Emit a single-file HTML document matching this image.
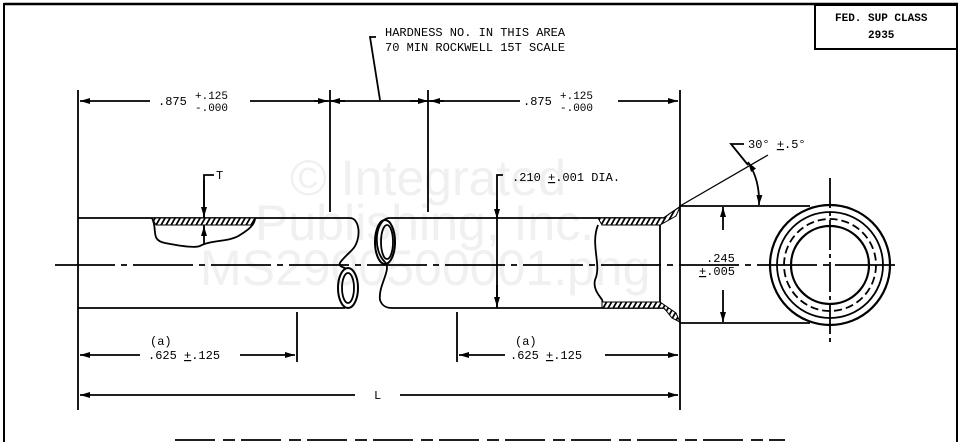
<!DOCTYPE html>
<html><head><meta charset="utf-8"><style>
html,body{margin:0;padding:0;background:#fff}
svg{display:block}
text{font-family:"Liberation Mono",monospace;fill:#000}
</style></head><body>
<svg width="960" height="442" viewBox="0 0 960 442" xmlns="http://www.w3.org/2000/svg">
<defs>
<pattern id="h" width="5" height="6" patternUnits="userSpaceOnUse" patternTransform="skewX(-30)">
<rect width="5" height="6" fill="#fff"/><rect x="0" y="0" width="2" height="6" fill="#000"/></pattern>
<marker id="a" viewBox="0 0 10 6" refX="10" refY="3" markerWidth="10" markerHeight="6" orient="auto-start-reverse" markerUnits="userSpaceOnUse"><path d="M0,0 L10,3 L0,6z" fill="#000"/></marker>
</defs>
<g font-size="50">
<text x="290" y="195" style="fill:#f0f0f0;font-family:'Liberation Sans',sans-serif">© Integrated</text>
<text x="255" y="240" style="fill:#f0f0f0;font-family:'Liberation Sans',sans-serif">Publishing, Inc.</text>
<text x="200" y="285" style="fill:#f0f0f0;font-family:'Liberation Sans',sans-serif">MS2900500001.png</text>
</g>
<g stroke="#000" fill="none" stroke-width="1.8">
<line x1="4" y1="3" x2="4" y2="442" stroke-width="2"/>
<line x1="4" y1="4" x2="958" y2="4" stroke-width="2.5"/>
<line x1="957" y1="4" x2="957" y2="442" stroke-width="2"/>
<rect x="815" y="5" width="142" height="44" stroke-width="2"/>
<polyline points="376,37 370,37 380,100"/>
<line x1="78" y1="90" x2="78" y2="410"/>
<line x1="330" y1="90" x2="330" y2="212"/>
<line x1="428" y1="90" x2="428" y2="212"/>
<line x1="680" y1="90" x2="680" y2="410"/>
<line x1="80" y1="101" x2="150" y2="101" marker-start="url(#a)"/>
<line x1="250" y1="101" x2="328" y2="101" marker-end="url(#a)"/>
<line x1="314" y1="101" x2="444" y2="101"/>
<line x1="330" y1="101" x2="345" y2="101" marker-start="url(#a)"/>
<line x1="410" y1="101" x2="428" y2="101" marker-end="url(#a)"/>
<line x1="430" y1="101" x2="520" y2="101" marker-start="url(#a)"/>
<line x1="618" y1="101" x2="678" y2="101" marker-end="url(#a)"/>
<line x1="55" y1="265" x2="900" y2="265" stroke-dasharray="60,6,6,6"/>
<path d="M78,218 H350 C360,218 362,240 352,250 C340,262 335,265 345,268"/>
<path d="M78,308 H345"/>
<ellipse cx="348" cy="288" rx="10" ry="20" stroke-width="2"/>
<ellipse cx="348" cy="288" rx="6" ry="15"/>
<path d="M680,207 L664,218 H390 C375,218 372,250 385,262 C392,270 378,285 380,300 C382,306 386,308 392,308 H610 L664,308 L680,322"/>
<ellipse cx="385" cy="242" rx="10" ry="22" stroke-width="2"/>
<ellipse cx="387" cy="242" rx="6" ry="17"/>
<path d="M598,225 C590,245 602,265 595,280 C592,292 605,300 602,302"/>
<line x1="660" y1="225" x2="660" y2="302"/>
<path d="M152,218 C158,230 150,240 165,243 C180,246 195,248 200,246 C210,240 230,242 240,235 C248,230 255,225 255,218"/>
<polyline points="214,175 204,175 204,245"/>
<line x1="204" y1="180" x2="204" y2="217" marker-end="url(#a)"/>
<line x1="204" y1="236" x2="204" y2="226" marker-end="url(#a)"/>
<polyline points="503,175 497,175 497,308"/>
<line x1="497" y1="200" x2="497" y2="219" marker-end="url(#a)"/>
<line x1="497" y1="285" x2="497" y2="307" marker-end="url(#a)"/>
<line x1="680" y1="206" x2="810" y2="206"/>
<line x1="680" y1="323" x2="810" y2="323"/>
<line x1="723" y1="230" x2="723" y2="207" marker-end="url(#a)"/>
<line x1="723" y1="290" x2="723" y2="322" marker-end="url(#a)"/>
<line x1="680" y1="206" x2="768" y2="155" stroke-width="1.3"/>
<path d="M748,162 Q760,180 759,205" marker-start="url(#a)" marker-end="url(#a)"/>
<polyline points="744,144 731,144 748,165"/>
<circle cx="830" cy="265" r="60" stroke-width="2.2"/>
<circle cx="830" cy="265" r="53"/>
<circle cx="830" cy="265" r="46" stroke-dasharray="8,4"/>
<circle cx="830" cy="265" r="39" stroke-width="2.2"/>
<line x1="830" y1="178" x2="830" y2="345" stroke-dasharray="30,4,4,4"/>
<line x1="297" y1="312" x2="297" y2="362"/>
<line x1="457" y1="312" x2="457" y2="362"/>
<line x1="80" y1="355" x2="140" y2="355" marker-start="url(#a)"/>
<line x1="240" y1="355" x2="295" y2="355" marker-end="url(#a)"/>
<line x1="459" y1="355" x2="505" y2="355" marker-start="url(#a)"/>
<line x1="605" y1="355" x2="678" y2="355" marker-end="url(#a)"/>
<line x1="80" y1="395" x2="355" y2="395" marker-start="url(#a)"/>
<line x1="400" y1="395" x2="678" y2="395" marker-end="url(#a)"/>
<line x1="175" y1="440" x2="785" y2="440" stroke-dasharray="40,8,12,6"/>
</g>
<g stroke="#000" stroke-width="1">
<path d="M152,218 L255,218 L252,225 L156,225z" fill="url(#h)"/>
<path d="M598,218 L664,218 L672,212 L680,207 L676,216 L660,225 L602,225z" fill="url(#h)"/>
<path d="M602,302 L660,302 L676,313 L680,322 L672,318 L664,308 L602,308z" fill="url(#h)"/>
</g>
<g font-size="12">
<text x="835" y="21" font-weight="bold" font-size="11">FED. SUP CLASS</text>
<text x="868" y="38" font-size="11" font-weight="bold">2935</text>
<text x="385" y="36">HARDNESS NO. IN THIS AREA</text>
<text x="385" y="51">70 MIN ROCKWELL 15T SCALE</text>
<text x="158" y="105">.875</text><text x="195" y="99" font-size="11">+.125</text><text x="195" y="111" font-size="11">-.000</text>
<text x="523" y="105">.875</text><text x="560" y="99" font-size="11">+.125</text><text x="560" y="111" font-size="11">-.000</text>
<text x="216" y="179">T</text>
<text x="512" y="181">.210 <tspan text-decoration="underline">+</tspan>.001 DIA.</text>
<text x="706" y="262">.245</text>
<text x="699" y="275"><tspan text-decoration="underline">+</tspan>.005</text>
<text x="748" y="148">30° <tspan text-decoration="underline">+</tspan>.5°</text>
<text x="150" y="345">(a)</text>
<text x="148" y="359">.625 <tspan text-decoration="underline">+</tspan>.125</text>
<text x="515" y="345">(a)</text>
<text x="510" y="359">.625 <tspan text-decoration="underline">+</tspan>.125</text>
<text x="374" y="399">L</text>
</g>
</svg>
</body></html>
